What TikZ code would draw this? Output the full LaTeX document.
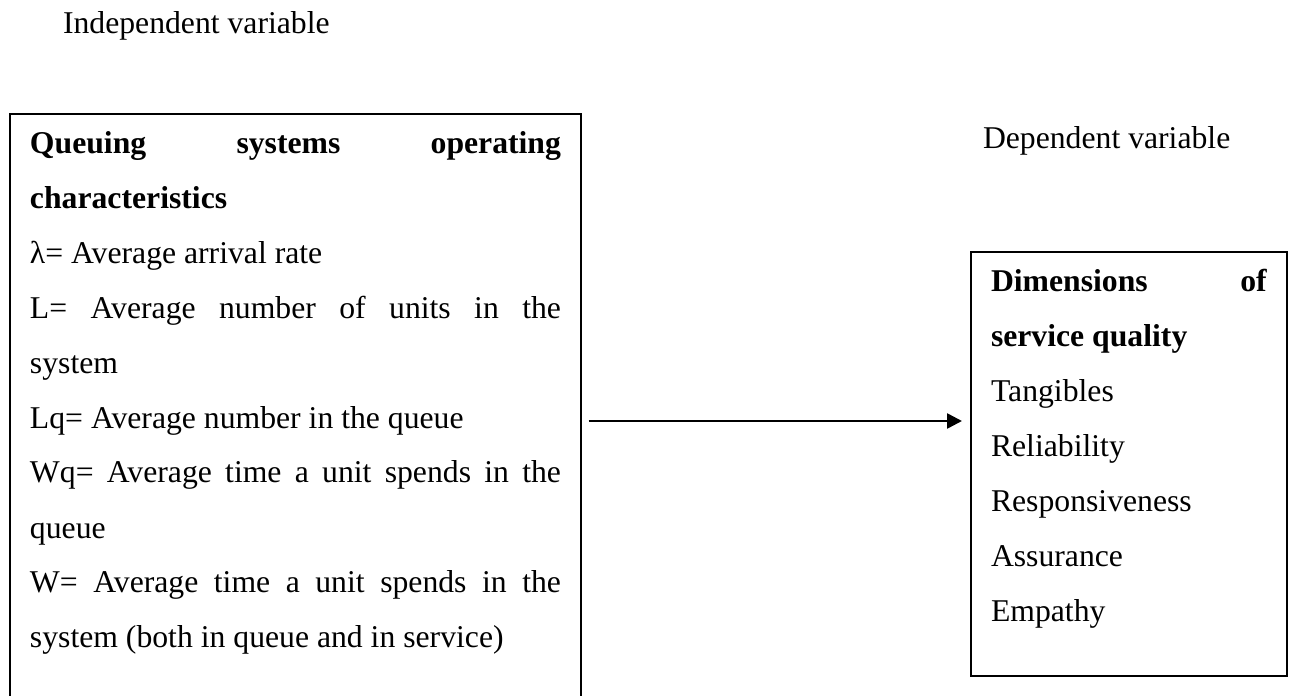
\documentclass[tikz,border=0pt]{standalone}
\usepackage{fontspec}
\setmainfont{Liberation Serif}
\usetikzlibrary{arrows.meta}
\tolerance=10000
\hyphenpenalty=10000
\hbadness=10000
\tikzset{
  txt/.style={font=\fontsize{31.7pt}{55pt}\selectfont, inner sep=0pt, outer sep=0pt},
  varbox/.style={txt, draw, line width=1.2pt, anchor=north west, align=justify,
    inner xsep=20pt, inner ysep=0pt, text height=39pt},
  link/.style={line width=2.6pt, -{Triangle[length=15pt,width=15pt]}}
}
\begin{document}
\begin{tikzpicture}[x=1pt,y=-1pt]
\useasboundingbox (0,0) rectangle (1294,696);
\node[txt, anchor=base west] (ivl) at (63,34) {Independent variable};
\node[txt, anchor=base west] (dvl) at (983,148) {Dependent variable};
\node[varbox, text width=531pt, text depth=549pt] (iv) at (10,114)
  {\textbf{Queuing systems operating}\linebreak
   \textbf{characteristics}\par
   λ= Average arrival rate\par
   L= Average number of units in the\linebreak
   system\par
   Lq= Average number in the queue\par
   Wq= Average time a unit spends in the\linebreak
   queue\par
   W= Average time a unit spends in the\linebreak
   system (both in queue and in service)\par};
\node[varbox, text width=276pt, text depth=385pt] (dv) at (971,252)
  {\textbf{Dimensions of}\linebreak
   \textbf{service quality}\par
   Tangibles\par
   Reliability\par
   Responsiveness\par
   Assurance\par
   Empathy\par};
\coordinate (ay) at (0,421);
\draw[link, shorten <=7.5pt, shorten >=9pt] (iv.east |- ay) -- (dv.west |- ay);
\end{tikzpicture}
\end{document}
